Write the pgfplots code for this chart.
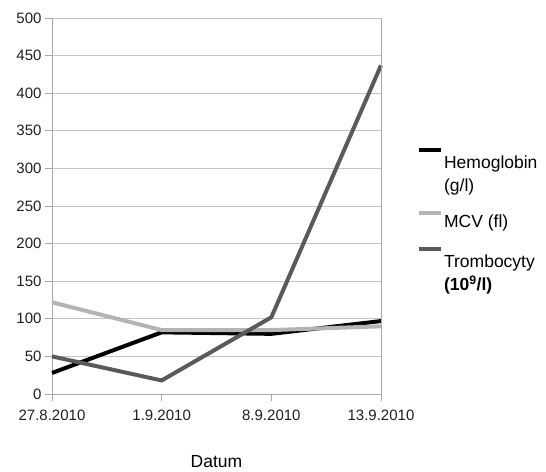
\documentclass[border=0pt]{standalone}
\usepackage{pgfplots}
\pgfplotsset{compat=1.18}
\usepackage{fontspec}
\setmainfont{Liberation Sans}
\definecolor{gridgray}{HTML}{C4C4C4}
\definecolor{axgray}{HTML}{A8A8A8}
\definecolor{mcvgray}{HTML}{B4B4B4}
\definecolor{trgray}{HTML}{5A5A5A}
% legend line raised above the centre of its text
\pgfplotsset{
  raised image/.style={legend image code/.code={%
    \draw[##1, line width=4pt] (0pt,#1) -- (22pt,#1);}}}
\begin{document}
\begin{tikzpicture}
  \begin{axis}[%
      scale only axis,
      width=329pt, height=376pt,
      xmin=0, xmax=3, ymin=0, ymax=500,
      axis lines*=left,
      axis line style={axgray, line width=0.8pt},
      xtick={0,1,2,3},
      xticklabels={27.8.2010, 1.9.2010, 8.9.2010, 13.9.2010},
      ytick={0,50,...,500},
      ymajorgrids,
      major grid style={gridgray, line width=0.8pt},
      tick style={axgray, line width=0.8pt},
      tick align=outside,
      major tick length=7pt,
      ticklabel style={font=\fontsize{15}{17}\selectfont, text=black!88},
      xticklabel style={yshift=-5pt},
      /pgf/number format/assume math mode=true,
      xlabel={Datum},
      xlabel style={font=\fontsize{17.5}{19}\selectfont, at={(0.5,0)}, anchor=center, yshift=-68pt},
      legend cell align=left,
      legend style={draw=none, fill=none, at={(1.10,0.659)}, anchor=north west,
        font=\fontsize{17.5}{23}\selectfont, row sep=17pt,
        nodes={align=left, inner sep=1pt}},
      after end axis/.code={\draw[axgray, line width=0.8pt] (rel axis cs:1,0) -- (rel axis cs:1,1);},
      clip=false]
    \addplot[black, line width=4pt, raised image=23.5pt] coordinates {
      (0, 28) (1, 82) (2, 80) (3, 97)
    };
    \addlegendentry{Hemoglobin\\(g/l)}
    \addplot[mcvgray, line width=4pt, raised image=9pt] coordinates {
      (0, 122) (1, 85) (2, 85) (3, 90)
    };
    \addlegendentry{MCV (fl)}
    \addplot[trgray, line width=4pt, raised image=25pt] coordinates {
      (0, 50) (1, 18) (2, 102) (3, 437)
    };
    \addlegendentry{Trombocyty\\\textbf{(10\textsuperscript{9}/l)}}
  \end{axis}
  \path[use as bounding box] (-52pt,-76pt) rectangle (494pt,394pt);
\end{tikzpicture}
\end{document}
